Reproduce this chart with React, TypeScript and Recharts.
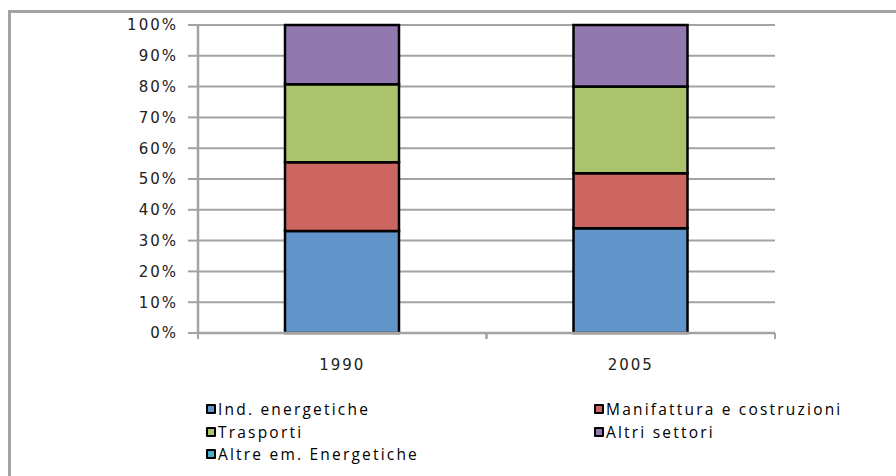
import React from 'react';
import { BarChart, Bar, XAxis, YAxis, CartesianGrid } from 'recharts';

const years = ['1990', '2005'];
const indEnergetiche = [33.1, 34.0];
const manifattura = [22.3, 17.9];
const trasporti = [25.4, 28.1];
const altriSettori = [19.2, 20.0];
const altreEm = [0, 0];
const yTicks = [0, 10, 20, 30, 40, 50, 60, 70, 80, 90, 100];

const series = [
  { key: 'ind', name: 'Ind. energetiche', values: indEnergetiche, color: '#6194C9' },
  { key: 'man', name: 'Manifattura e costruzioni', values: manifattura, color: '#CD6661' },
  { key: 'tra', name: 'Trasporti', values: trasporti, color: '#ABC46C' },
  { key: 'alt', name: 'Altri settori', values: altriSettori, color: '#9179B0' },
  { key: 'aem', name: 'Altre em. Energetiche', values: altreEm, color: '#4DADC8' },
];

const data = years.map((y, i) => {
  const row: Record<string, any> = { year: y };
  series.forEach((s) => { row[s.key] = s.values[i]; });
  return row;
});

const GRAY = '#A3A3A3';
const tickFont = { fontFamily: 'DejaVu Sans', fontSize: 15, fill: '#222', letterSpacing: 2 };
const X_TICK_MARGIN = 26;

const CatTick = (props: any) => {
  const { x, y, payload } = props;
  const half = (payload && payload.offset) || 0;
  const axisY = y - X_TICK_MARGIN;
  return (
    <g>
      <line x1={x - half} y1={axisY} x2={x - half} y2={axisY + 6} stroke={GRAY} strokeWidth={2} />
      <line x1={x + half} y1={axisY} x2={x + half} y2={axisY + 6} stroke={GRAY} strokeWidth={2} />
      <text x={x} y={y} dy="0.71em" textAnchor="middle" {...tickFont}>{payload.value}</text>
    </g>
  );
};

export default function App() {
  return (
    <div style={{ position: 'fixed', left: 0, top: 0, width: 896, height: 476, overflow: 'hidden', background: '#fff' }}>
      <div style={{ position: 'absolute', left: 8, top: 10, width: 2000, height: 2000, borderTop: `3px solid ${GRAY}`, borderLeft: `3px solid ${GRAY}` }} />
      <div style={{ position: 'absolute', left: 0, top: 0 }}>
        <BarChart width={896} height={476} data={data} margin={{ top: 25, right: 121, left: 108, bottom: 103 }} barSize={114}>
          <CartesianGrid vertical={false} stroke={GRAY} strokeWidth={2} />
          <XAxis dataKey="year" height={40} tickLine={false} tickSize={0} tickMargin={X_TICK_MARGIN} axisLine={{ stroke: GRAY, strokeWidth: 2.5 }} tick={<CatTick />} interval={0} />
          <YAxis width={90} domain={[0, 100]} ticks={yTicks} tickFormatter={(v: number) => `${v}%`} tickSize={10} tickMargin={10} axisLine={{ stroke: GRAY, strokeWidth: 2.5 }} tickLine={{ stroke: GRAY, strokeWidth: 2 }} tick={tickFont} interval={0} />
          {series.map((s) => (
            <Bar key={s.key} dataKey={s.key} name={s.name} stackId="a" fill={s.color} stroke="#000" strokeWidth={2.5} isAnimationActive={false} />
          ))}
        </BarChart>
      </div>
      <div style={{ position: 'absolute', left: 206, top: 398, display: 'grid', gridTemplateColumns: '388px auto', rowGap: 0, fontFamily: 'Open Sans', fontSize: 15.5, letterSpacing: 2.2, color: '#000' }}>
        {series.map((s) => (
          <div key={s.key} style={{ display: 'flex', alignItems: 'center', height: 22.6 }}>
            <span style={{ display: 'inline-block', width: 6, height: 6, background: s.color, border: '2.5px solid #000', borderRadius: 1, marginRight: 2, flexShrink: 0 }} />
            <span style={{ whiteSpace: 'nowrap' }}>{s.name}</span>
          </div>
        ))}
      </div>
    </div>
  );
}
